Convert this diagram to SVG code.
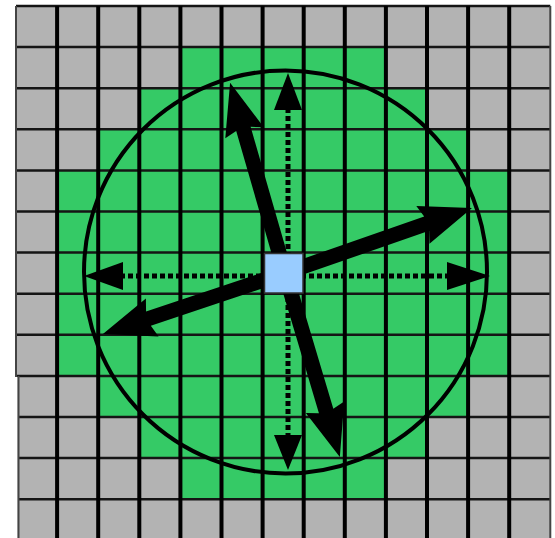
<svg xmlns="http://www.w3.org/2000/svg" width="555" height="538" viewBox="0 0 555 538">
  <style>
    .gray { fill: #b3b3b3; }
    .green { fill: #35ca66; }
    .vline { stroke: #000; stroke-width: 4; }
    .hline { stroke: #151515; stroke-width: 2.5; }
    .dot { stroke: #000; stroke-width: 5; stroke-dasharray: 5 3; fill: none; }
    .head { fill: #000; }
    .solid { fill: #000; }
  </style>
  <rect width="555" height="538" fill="#fff"/>
  <g id="grid">
    <rect class="gray" x="16" y="6" width="534.3" height="534"/>
    <rect class="green" x="180.4" y="47.1" width="205.5" height="41.1"/>
    <rect class="green" x="139.3" y="88.2" width="287.7" height="41.1"/>
    <rect class="green" x="98.2" y="129.3" width="369.9" height="41.1"/>
    <rect class="green" x="57.1" y="170.4" width="452.1" height="205.5"/>
    <rect class="green" x="98.2" y="375.9" width="369.9" height="41.1"/>
    <rect class="green" x="139.3" y="417" width="287.7" height="41.1"/>
    <rect class="green" x="180.4" y="458.1" width="205.5" height="41.1"/>
    <g class="hline">
      <line x1="16" y1="6" x2="550.3" y2="6"/>
      <line x1="16" y1="47.1" x2="550.3" y2="47.1"/>
      <line x1="16" y1="88.2" x2="550.3" y2="88.2"/>
      <line x1="16" y1="129.3" x2="550.3" y2="129.3"/>
      <line x1="16" y1="170.4" x2="550.3" y2="170.4"/>
      <line x1="16" y1="211.5" x2="550.3" y2="211.5"/>
      <line x1="16" y1="252.6" x2="550.3" y2="252.6"/>
      <line x1="16" y1="293.7" x2="550.3" y2="293.7"/>
      <line x1="16" y1="334.8" x2="550.3" y2="334.8"/>
      <line x1="16" y1="375.9" x2="550.3" y2="375.9"/>
      <line x1="18" y1="417" x2="550.3" y2="417"/>
      <line x1="18" y1="458.1" x2="550.3" y2="458.1"/>
      <line x1="18" y1="499.2" x2="550.3" y2="499.2"/>
    </g>
    <g class="vline">
      <line x1="57.1" y1="6" x2="57.1" y2="538"/>
      <line x1="98.2" y1="6" x2="98.2" y2="538"/>
      <line x1="139.3" y1="6" x2="139.3" y2="538"/>
      <line x1="180.4" y1="6" x2="180.4" y2="538"/>
      <line x1="221.5" y1="6" x2="221.5" y2="538"/>
      <line x1="262.6" y1="6" x2="262.6" y2="538"/>
      <line x1="303.7" y1="6" x2="303.7" y2="538"/>
      <line x1="344.8" y1="6" x2="344.8" y2="538"/>
      <line x1="385.9" y1="6" x2="385.9" y2="538"/>
      <line x1="427" y1="6" x2="427" y2="538"/>
      <line x1="468.1" y1="6" x2="468.1" y2="538"/>
      <line x1="509.2" y1="6" x2="509.2" y2="538"/>
    </g>
    <rect x="0" y="377" width="17.5" height="161" fill="#fff"/>
    <line x1="16" y1="6" x2="16" y2="377" stroke="#444" stroke-width="2"/>
    <line x1="18.5" y1="376" x2="18.5" y2="538" stroke="#444" stroke-width="2"/>
    <line x1="550.3" y1="6" x2="550.3" y2="538" stroke="#444" stroke-width="2"/>
  </g>
  <g id="circle">
    <circle cx="285.5" cy="272" r="201.5" fill="none" stroke="#000" stroke-width="4"/>
  </g>
  <g id="connectors">
    <g id="dotted-arrows">
      <line class="dot" x1="288" y1="273" x2="288" y2="108"/>
      <polygon class="head" points="288,73 302,110 274,110"/>
      <line class="dot" x1="288" y1="273" x2="288" y2="437"/>
      <polygon class="head" points="288,470 274,435 302,435"/>
      <line class="dot" x1="285" y1="276" x2="121" y2="276"/>
      <polygon class="head" points="84,276 123,262 123,290"/>
      <line class="dot" x1="285" y1="276" x2="449" y2="276"/>
      <polygon class="head" points="490,276 447,262 447,290"/>
    </g>
    <g id="solid-arrows">
      <polygon class="solid" transform="translate(285,273) rotate(-106.1)" points="0,-7.5 150,-7.5 146,-20 198,0 146,20 150,7.5 0,7.5"/>
      <polygon class="solid" transform="translate(285,273) rotate(-19.2)" points="0,-7.5 150,-7.5 146,-20 198,0 146,20 150,7.5 0,7.5"/>
      <polygon class="solid" transform="translate(285,273) rotate(161.5)" points="0,-7.5 144,-7.5 140,-20 192,0 140,20 144,7.5 0,7.5"/>
      <polygon class="solid" transform="translate(285,273) rotate(73.4)" points="0,-7.5 144,-7.5 140,-20 192,0 140,20 144,7.5 0,7.5"/>
    </g>
  </g>
  <g id="center-node">
    <rect x="264.5" y="253.5" width="38.5" height="39.5" fill="#99ccff" stroke="#333" stroke-width="1.5"/>
  </g>
</svg>
